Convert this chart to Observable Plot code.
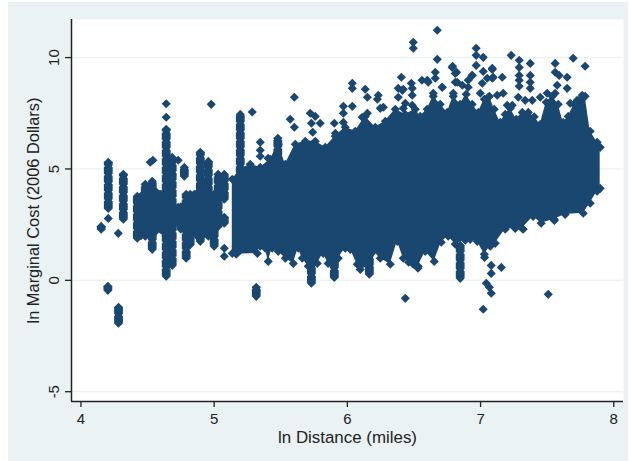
<!DOCTYPE html>
<html>
<head>
<meta charset="utf-8">
<script src="https://cdn.jsdelivr.net/npm/d3@7"></script>
<script src="https://cdn.jsdelivr.net/npm/@observablehq/plot@0.6"></script>
<style>
html,body{margin:0;padding:0;background:#fff;}
#wrap{position:relative;width:629px;height:461px;overflow:hidden;}
#panel{position:absolute;left:8px;top:2px;right:1px;bottom:0;background:#eaf2f3;}
#chart{position:absolute;left:0;top:0;}
#chart svg{background:transparent !important;display:block;}
</style>
</head>
<body>
<div id="wrap"><div id="panel"></div><div id="chart"></div></div>
<script>
// Upper edge of the dense cloud
const upperDistance = [5.136,5.196,5.271,5.346,5.421,5.481,5.534,5.609,5.684,5.759,5.834,5.909,5.984,6.059,6.134,6.21,6.285,6.36,6.435,6.51,6.547,6.599,6.645,6.697,6.75,6.795,6.847,6.892,6.937,6.983,7.028,7.066,7.103,7.148,7.185,7.223,7.268,7.313,7.358,7.403,7.448,7.493,7.538,7.583,7.62,7.658,7.703,7.748,7.785,7.823,7.875,7.898];
const upperCost = [4.54,4.98,5.21,5.07,5.43,6.11,5.21,6.11,6.24,6.24,5.97,6.47,6.87,6.69,7.36,6.87,7.14,7.68,7.45,7.68,7.36,7.68,8.26,7.9,7.54,8.26,7.9,8.35,7.9,7.54,8.13,8.26,7.68,7.09,7.45,7.72,7.23,7.54,7.54,7.34,7.0,7.99,8.26,7.9,7.09,7.36,7.9,8.13,8.26,6.69,6.2,5.97];

// Lower edge of the dense cloud
const lowerDistance = [5.136,5.166,5.324,5.346,5.384,5.406,5.436,5.481,5.534,5.594,5.631,5.661,5.706,5.774,5.819,5.856,5.902,5.932,5.984,6.022,6.074,6.097,6.165,6.195,6.247,6.322,6.375,6.42,6.495,6.532,6.585,6.652,6.705,6.757,6.81,6.885,6.922,6.975,7.028,7.073,7.11,7.185,7.26,7.313,7.395,7.455,7.553,7.635,7.771,7.823,7.875,7.898];
const lowerCost = [1.21,1.17,1.21,1.53,1.44,0.85,1.44,1.30,0.99,0.76,1.44,0.99,0.63,0.76,1.21,0.76,0.72,0.99,1.44,1.39,0.72,0.49,0.63,1.30,0.99,0.72,1.75,0.99,0.72,0.63,1.3,0.85,1.71,1.98,1.62,1.8,1.84,1.75,1.17,1.53,1.66,2.29,2.33,2.33,2.87,2.56,2.74,2.96,3.01,3.46,4.0,4.13];
const coreMiddle = 4.3;

// Vertical runs of points at single distances
const runDistance = [4.205,4.152,4.202,4.318,4.282,4.423,4.45,4.483,4.535,4.56,4.595,4.615,4.64,4.685,4.73,4.75,4.776,4.79,4.82,4.85,4.87,4.896,4.93,4.956,4.98,5.0,5.03,5.076,5.076,5.196,5.316,5.478,5.73,5.902,6.165,6.847];
const runHigh = [5.30,2.42,-0.27,4.76,-1.21,3.77,3.77,4.31,4.45,4.0,3.86,3.9,6.78,5.52,3.28,3.3,5.07,3.86,3.86,3.86,3.9,5.75,4.3,5.34,3.8,3.86,4.76,4.76,2.83,7.45,-0.31,6.38,1.35,1.80,1.80,1.57];
const runLow = [3.23,2.29,-0.45,2.74,-1.93,1.89,2.0,1.98,1.39,2.2,2.29,2.2,0.18,0.67,2.56,2.3,4.67,0.99,1.6,2.51,2.0,1.75,2.1,1.98,2.0,1.53,2.42,3.64,2.56,1.35,-0.72,5.2,-0.13,0.13,0.27,0.09];

// Individually visible points
const pointDistance = [4.205,4.28,4.54,4.52,4.64,4.64,4.73,4.978,5.076,5.076,5.286,5.346,5.346,5.346,5.405,5.571,5.602,5.602,5.721,5.759,5.73,5.74,5.796,5.902,5.91,5.97,6.037,5.97,5.97,6.037,6.037,6.134,6.15,6.232,6.225,6.247,6.111,6.15,6.27,6.405,6.382,6.42,6.382,6.48,6.487,6.487,6.435,6.487,6.495,6.495,6.675,6.675,6.66,6.56,6.6,6.66,6.712,6.79,6.82,6.81,6.937,6.907,6.967,6.967,7.02,6.967,7.02,7.088,7.088,7.163,7.23,7.29,7.29,7.29,7.29,7.29,7.373,7.373,7.373,7.373,7.56,7.56,7.59,7.65,7.575,7.65,7.695,7.785,6.435,7.02,7.508,7.156,7.08,7.08,7.043,7.066,7.08,7.03,7.32,7.554,6.46,6.53,6.787,6.81,6.825,6.863,6.907,6.937,7.013,7.05,7.088,7.095,7.17,7.125,7.058,6.998,6.795,6.712,6.645,6.607,7.283,7.335,7.388,7.2,7.238,7.5,7.56,7.448,7.673,7.763,7.725,6.412,6.42];
const pointCost = [2.78,2.11,5.39,5.30,7.93,7.32,5.39,7.9,1.44,1.08,7.56,6.2,5.84,5.57,5.48,7.23,6.87,8.22,7.5,7.36,7.05,6.65,7.05,7.05,6.6,7.81,7.81,7.5,7.09,8.85,8.62,8.58,8.22,8.31,8.13,7.72,7.32,7.5,7.77,9.12,8.62,8.58,8.22,8.85,8.62,8.31,7.95,7.86,10.69,10.42,11.23,9.92,9.34,8.98,8.98,9.07,8.67,9.61,9.34,8.89,9.2,8.98,10.42,10.1,10.01,9.65,9.38,9.47,9.07,9.12,10.1,9.88,9.56,9.2,8.98,8.71,9.74,9.2,8.89,8.62,9.74,9.34,9.2,9.12,8.76,8.62,9.97,9.61,-0.81,-1.3,-0.63,0.58,0.67,0.31,-0.13,-0.31,-0.58,1.03,2.29,2.69,0.81,0.54,9.56,9.29,8.89,8.76,8.67,9.2,8.85,9.07,9.52,9.12,8.4,8.31,8.22,8.4,8.4,8.67,8.4,8.89,8.22,8.08,8.08,7.86,7.86,8.4,8.4,8.22,7.95,8.31,8.08,8.53,7.72];

// Axis ticks and labels
const xTicks = [4,5,6,7,8];
const yTicks = [-5,0,5,10];
const xTitle = "ln Distance (miles)";
const yTitle = "ln Marginal Cost (2006 Dollars)";

const navy = "#1a476f";
const gridColor = "#eaf2f3";
const diamond = {symbol:"diamond2", r:4.1, fill:navy, stroke:"none"};
const upperIdx = d3.range(upperDistance.length);
const lowerIdx = d3.range(lowerDistance.length);
const runIdx = d3.range(runDistance.length);
const pointIdx = d3.range(pointDistance.length);

const chart = Plot.plot({
  width:629, height:461,
  marginLeft:71, marginRight:6, marginTop:19, marginBottom:60,
  style:{background:"transparent", fontFamily:"'Liberation Sans',Arial,sans-serif", color:"#222"},
  x:{domain:[3.929,8.073], label:null},
  y:{domain:[-5.44,11.71], label:null},
  marks:[
    Plot.frame({fill:"white", stroke:"none"}),
    Plot.ruleY(yTicks, {stroke:gridColor, strokeWidth:1.2}),
    Plot.areaY(upperIdx, {x:i=>upperDistance[i], y1:()=>coreMiddle, y2:i=>upperCost[i], fill:navy}),
    Plot.areaY(lowerIdx, {x:i=>lowerDistance[i], y1:i=>lowerCost[i], y2:()=>coreMiddle, fill:navy}),
    Plot.dot(upperIdx, {x:i=>upperDistance[i], y:i=>upperCost[i], ...diamond}),
    Plot.dot(lowerIdx, {x:i=>lowerDistance[i], y:i=>lowerCost[i], ...diamond}),
    Plot.ruleX(runIdx, {x:i=>runDistance[i], y1:i=>runLow[i], y2:i=>runHigh[i], stroke:navy, strokeWidth:7.2}),
    Plot.ruleX(runIdx, {x:i=>runDistance[i], y1:i=>runLow[i], y2:i=>runHigh[i], stroke:navy, strokeWidth:8.8, strokeDasharray:"7 1.5"}),
    Plot.dot(runIdx, {x:i=>runDistance[i], y:i=>runHigh[i], ...diamond}),
    Plot.dot(runIdx, {x:i=>runDistance[i], y:i=>runLow[i], ...diamond}),
    Plot.dot(pointIdx, {x:i=>pointDistance[i], y:i=>pointCost[i], ...diamond}),
    Plot.ruleX([3.929], {stroke:"#222", strokeWidth:1.5}),
    Plot.ruleY([-5.44], {stroke:"#222", strokeWidth:1.5}),
    Plot.axisX({ticks:xTicks, tickFormat:d=>d, tickSize:6, tickPadding:6, fontSize:15, stroke:"#222", strokeWidth:1.3,
      label:xTitle, labelAnchor:"center", labelArrow:"none", labelOffset:41}),
    Plot.axisY({ticks:yTicks, tickFormat:d=>d, tickSize:6, tickPadding:7, tickRotate:-90, fontSize:15, stroke:"#222", strokeWidth:1.3,
      label:yTitle, labelAnchor:"center", labelArrow:"none", labelOffset:44})
  ]
});
chart.querySelectorAll("text").forEach(t=>{
  if (t.textContent.trim()===xTitle) t.style.fontSize="16.9px";
  if (t.textContent.trim()===yTitle) t.style.fontSize="16.4px";
});
document.querySelector("#chart").appendChild(chart);
</script>
</body>
</html>
